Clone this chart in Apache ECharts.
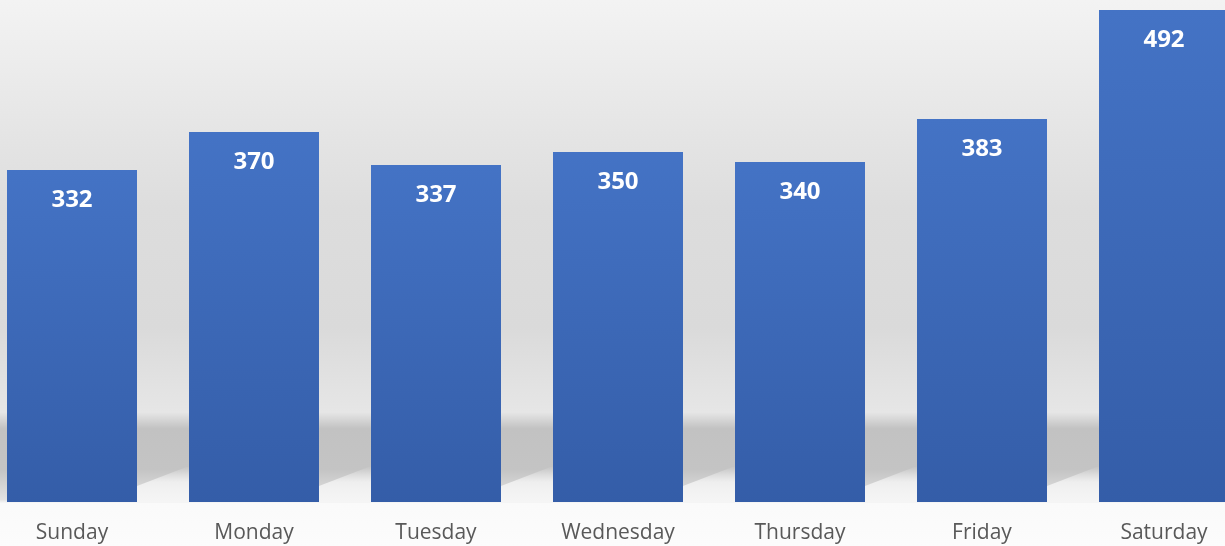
<!DOCTYPE html>
<html>
<head>
<meta charset="utf-8">
<script src="https://cdn.jsdelivr.net/npm/echarts@6/dist/echarts.min.js"></script>
<style>
  html, body { margin: 0; padding: 0; overflow: hidden; background: #fcfcfc; }
  body { width: 1225px; height: 546px; position: relative; }
  #chart { position: absolute; left: -19px; top: 0; width: 1274px; height: 546px; }
</style>
</head>
<body>
<div id="chart"></div>
<script>
const days = ['Sunday', 'Monday', 'Tuesday', 'Wednesday', 'Thursday', 'Friday', 'Saturday']
const counts = [332, 370, 337, 350, 340, 383, 492]

const myChart = echarts.init(document.getElementById('chart'))

// light floor patch at the foot of each gap, gives the slanted shadow edge
const floorPatch = (params, api) => {
  const base = api.coord([api.value(0), 0])
  const size = api.size([1, 0])
  const half = 65
  const rx = base[0] + half
  const nx = base[0] + size[0] - half
  const y = base[1]
  return {
    type: 'polygon',
    shape: { points: [[rx, y - 16], [nx, y - 36], [nx, y], [rx, y]] },
    style: {
      fill: new echarts.graphic.LinearGradient(0, 0, 0, 1, [
        { offset: 0, color: 'rgba(244,244,244,0)' },
        { offset: 0.45, color: 'rgba(244,244,244,0.85)' },
        { offset: 1, color: '#f5f5f5' }
      ])
    }
  }
}

const option = {
  animation: false,
  graphic: [
    {
      type: 'rect',
      z: -10,
      silent: true,
      shape: { x: 0, y: 0, width: 1274, height: 546 },
      style: {
        fill: new echarts.graphic.LinearGradient(0, 0, 0, 1, [
          { offset: 0, color: '#f3f3f3' },
          { offset: 0.38, color: '#dddddd' },
          { offset: 0.6, color: '#dadada' },
          { offset: 0.755, color: '#e6e6e6' },
          { offset: 0.785, color: '#c2c2c2' },
          { offset: 0.86, color: '#c4c4c4' },
          { offset: 0.915, color: '#e2e2e2' },
          { offset: 0.922, color: '#fafafa' },
          { offset: 1, color: '#fcfcfc' }
        ])
      }
    }
  ],
  grid: { left: 0, right: 0, top: 10, bottom: 44, containLabel: false },
  xAxis: {
    type: 'category',
    data: days,
    axisLine: { show: false },
    axisTick: { show: false },
    axisLabel: {
      color: '#595959',
      fontFamily: 'Open Sans',
      fontSize: 21,
      margin: 21
    }
  },
  yAxis: {
    type: 'value',
    min: 0,
    max: 492,
    show: false,
    splitLine: { show: false }
  },
  series: [
    {
      type: 'custom',
      silent: true,
      z: 1,
      renderItem: floorPatch,
      data: counts.map((v, i) => [i, v])
    },
    {
      type: 'bar',
      z: 2,
      data: counts,
      barWidth: 130,
      itemStyle: {
        color: new echarts.graphic.LinearGradient(0, 0, 0, 1, [
          { offset: 0, color: '#4473c5' },
          { offset: 1, color: '#345da8' }
        ])
      },
      label: {
        show: true,
        position: 'insideTop',
        distance: 18,
        color: '#ffffff',
        fontFamily: 'Open Sans',
        fontWeight: 'bold',
        fontSize: 24
      }
    }
  ]
}

myChart.setOption(option)

window.addEventListener('resize', () => {
  myChart.resize()
})
</script>
</body>
</html>
